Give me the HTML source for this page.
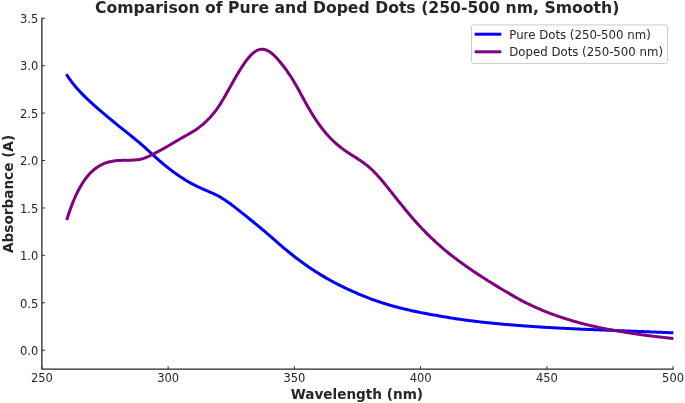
<!DOCTYPE html>
<html><head><meta charset="utf-8"><title>Comparison of Pure and Doped Dots</title>
<style>
html,body{margin:0;padding:0;background:#fff;}
body{width:685px;height:403px;overflow:hidden;}
svg{display:block;filter:blur(0.45px);font-family:"DejaVu Sans","Liberation Sans",sans-serif;}
</style></head><body>
<svg width="685" height="403" viewBox="0 0 685 403">
<rect width="685" height="403" fill="#ffffff"/>
<path d="M41.9 17.8 V369.2 H673.6" fill="none" stroke="#262626" stroke-width="1.3"/>
<path d="M41.90 369.2 v-3.1 M168.14 369.2 v-3.1 M294.38 369.2 v-3.1 M420.62 369.2 v-3.1 M546.86 369.2 v-3.1 M673.10 369.2 v-3.1 M41.9 350.20 h3.1 M41.9 302.79 h3.1 M41.9 255.37 h3.1 M41.9 207.96 h3.1 M41.9 160.54 h3.1 M41.9 113.13 h3.1 M41.9 65.71 h3.1 M41.9 18.30 h3.1" fill="none" stroke="#262626" stroke-width="0.9"/>
<text x="41.90" y="382.1" text-anchor="middle" font-size="11.5" fill="#262626">250</text>
<text x="168.14" y="382.1" text-anchor="middle" font-size="11.5" fill="#262626">300</text>
<text x="294.38" y="382.1" text-anchor="middle" font-size="11.5" fill="#262626">350</text>
<text x="420.62" y="382.1" text-anchor="middle" font-size="11.5" fill="#262626">400</text>
<text x="546.86" y="382.1" text-anchor="middle" font-size="11.5" fill="#262626">450</text>
<text x="673.10" y="382.1" text-anchor="middle" font-size="11.5" fill="#262626">500</text>
<text x="38.3" y="354.95" text-anchor="end" font-size="11.5" fill="#262626">0.0</text>
<text x="38.3" y="307.54" text-anchor="end" font-size="11.5" fill="#262626">0.5</text>
<text x="38.3" y="260.12" text-anchor="end" font-size="11.5" fill="#262626">1.0</text>
<text x="38.3" y="212.71" text-anchor="end" font-size="11.5" fill="#262626">1.5</text>
<text x="38.3" y="165.29" text-anchor="end" font-size="11.5" fill="#262626">2.0</text>
<text x="38.3" y="117.88" text-anchor="end" font-size="11.5" fill="#262626">2.5</text>
<text x="38.3" y="70.46" text-anchor="end" font-size="11.5" fill="#262626">3.0</text>
<text x="38.3" y="23.05" text-anchor="end" font-size="11.5" fill="#262626">3.5</text>
<clipPath id="ax"><rect x="41.9" y="18.3" width="631.50" height="350.90"/></clipPath>
<g clip-path="url(#ax)">
<path d="M67.15 75.50 L68.41 77.36 L69.67 79.15 L70.94 80.88 L72.20 82.56 L73.46 84.17 L74.72 85.73 L75.98 87.24 L77.25 88.70 L78.51 90.12 L79.77 91.50 L81.03 92.84 L82.30 94.14 L83.56 95.42 L84.82 96.66 L86.08 97.88 L87.35 99.08 L88.61 100.25 L89.87 101.41 L91.13 102.56 L92.40 103.70 L93.66 104.83 L94.92 105.95 L96.18 107.07 L97.45 108.18 L98.71 109.28 L99.97 110.38 L101.23 111.47 L102.50 112.55 L103.76 113.63 L105.02 114.70 L106.28 115.76 L107.54 116.82 L108.81 117.87 L110.07 118.92 L111.33 119.96 L112.59 121.00 L113.86 122.03 L115.12 123.06 L116.38 124.08 L117.64 125.10 L118.91 126.12 L120.17 127.13 L121.43 128.14 L122.69 129.15 L123.96 130.16 L125.22 131.16 L126.48 132.17 L127.74 133.18 L129.01 134.19 L130.27 135.20 L131.53 136.21 L132.79 137.23 L134.06 138.26 L135.32 139.29 L136.58 140.33 L137.84 141.37 L139.10 142.44 L140.37 143.51 L141.63 144.60 L142.89 145.70 L144.15 146.82 L145.42 147.96 L146.68 149.10 L147.94 150.26 L149.20 151.42 L150.47 152.58 L151.73 153.74 L152.99 154.90 L154.25 156.06 L155.52 157.20 L156.78 158.33 L158.04 159.45 L159.30 160.56 L160.57 161.65 L161.83 162.73 L163.09 163.80 L164.35 164.85 L165.62 165.88 L166.88 166.90 L168.14 167.90 L169.40 168.88 L170.66 169.85 L171.93 170.80 L173.19 171.73 L174.45 172.65 L175.71 173.55 L176.98 174.44 L178.24 175.31 L179.50 176.16 L180.76 177.00 L182.03 177.82 L183.29 178.63 L184.55 179.42 L185.81 180.20 L187.08 180.96 L188.34 181.70 L189.60 182.43 L190.86 183.14 L192.13 183.83 L193.39 184.50 L194.65 185.15 L195.91 185.79 L197.18 186.41 L198.44 187.01 L199.70 187.60 L200.96 188.18 L202.22 188.75 L203.49 189.31 L204.75 189.86 L206.01 190.40 L207.27 190.94 L208.54 191.47 L209.80 192.01 L211.06 192.56 L212.32 193.12 L213.59 193.69 L214.85 194.28 L216.11 194.89 L217.37 195.53 L218.64 196.20 L219.90 196.90 L221.16 197.64 L222.42 198.41 L223.69 199.21 L224.95 200.04 L226.21 200.89 L227.47 201.76 L228.74 202.65 L230.00 203.57 L231.26 204.50 L232.52 205.45 L233.78 206.41 L235.05 207.38 L236.31 208.36 L237.57 209.36 L238.83 210.36 L240.10 211.36 L241.36 212.37 L242.62 213.39 L243.88 214.40 L245.15 215.41 L246.41 216.43 L247.67 217.44 L248.93 218.46 L250.20 219.48 L251.46 220.50 L252.72 221.52 L253.98 222.54 L255.25 223.57 L256.51 224.60 L257.77 225.64 L259.03 226.68 L260.30 227.72 L261.56 228.77 L262.82 229.83 L264.08 230.89 L265.34 231.96 L266.61 233.03 L267.87 234.11 L269.13 235.20 L270.39 236.30 L271.66 237.40 L272.92 238.50 L274.18 239.61 L275.44 240.72 L276.71 241.82 L277.97 242.92 L279.23 244.02 L280.49 245.12 L281.76 246.20 L283.02 247.27 L284.28 248.34 L285.54 249.39 L286.81 250.44 L288.07 251.47 L289.33 252.50 L290.59 253.51 L291.86 254.52 L293.12 255.51 L294.38 256.50 L295.64 257.48 L296.90 258.44 L298.17 259.40 L299.43 260.34 L300.69 261.27 L301.95 262.20 L303.22 263.11 L304.48 264.02 L305.74 264.91 L307.00 265.80 L308.27 266.68 L309.53 267.54 L310.79 268.40 L312.05 269.24 L313.32 270.08 L314.58 270.90 L315.84 271.72 L317.10 272.52 L318.37 273.32 L319.63 274.10 L320.89 274.87 L322.15 275.64 L323.42 276.39 L324.68 277.14 L325.94 277.87 L327.20 278.60 L328.46 279.31 L329.73 280.02 L330.99 280.71 L332.25 281.40 L333.51 282.08 L334.78 282.75 L336.04 283.41 L337.30 284.06 L338.56 284.70 L339.83 285.34 L341.09 285.96 L342.35 286.58 L343.61 287.19 L344.88 287.80 L346.14 288.40 L347.40 288.99 L348.66 289.58 L349.93 290.15 L351.19 290.73 L352.45 291.29 L353.71 291.85 L354.98 292.41 L356.24 292.96 L357.50 293.50 L358.76 294.04 L360.02 294.57 L361.29 295.10 L362.55 295.62 L363.81 296.13 L365.07 296.64 L366.34 297.14 L367.60 297.63 L368.86 298.12 L370.12 298.60 L371.39 299.07 L372.65 299.54 L373.91 300.00 L375.17 300.45 L376.44 300.89 L377.70 301.33 L378.96 301.75 L380.22 302.18 L381.49 302.59 L382.75 303.00 L384.01 303.40 L385.27 303.80 L386.54 304.18 L387.80 304.56 L389.06 304.94 L390.32 305.30 L391.58 305.66 L392.85 306.02 L394.11 306.36 L395.37 306.70 L396.63 307.03 L397.90 307.36 L399.16 307.68 L400.42 307.99 L401.68 308.30 L402.95 308.61 L404.21 308.91 L405.47 309.21 L406.73 309.50 L408.00 309.80 L409.26 310.09 L410.52 310.39 L411.78 310.68 L413.05 310.97 L414.31 311.25 L415.57 311.53 L416.83 311.81 L418.10 312.08 L419.36 312.34 L420.62 312.60 L421.88 312.85 L423.14 313.09 L424.41 313.33 L425.67 313.56 L426.93 313.79 L428.19 314.02 L429.46 314.24 L430.72 314.46 L431.98 314.68 L433.24 314.90 L434.51 315.12 L435.77 315.34 L437.03 315.56 L438.29 315.79 L439.56 316.01 L440.82 316.23 L442.08 316.45 L443.34 316.67 L444.61 316.89 L445.87 317.10 L447.13 317.31 L448.39 317.52 L449.66 317.73 L450.92 317.93 L452.18 318.14 L453.44 318.34 L454.70 318.53 L455.97 318.72 L457.23 318.91 L458.49 319.10 L459.75 319.28 L461.02 319.46 L462.28 319.64 L463.54 319.81 L464.80 319.98 L466.07 320.15 L467.33 320.32 L468.59 320.48 L469.85 320.64 L471.12 320.80 L472.38 320.96 L473.64 321.11 L474.90 321.27 L476.17 321.42 L477.43 321.57 L478.69 321.72 L479.95 321.87 L481.22 322.01 L482.48 322.16 L483.74 322.30 L485.00 322.44 L486.26 322.58 L487.53 322.71 L488.79 322.85 L490.05 322.98 L491.31 323.11 L492.58 323.23 L493.84 323.36 L495.10 323.48 L496.36 323.60 L497.63 323.72 L498.89 323.83 L500.15 323.95 L501.41 324.06 L502.68 324.17 L503.94 324.28 L505.20 324.38 L506.46 324.49 L507.73 324.60 L508.99 324.70 L510.25 324.80 L511.51 324.91 L512.78 325.01 L514.04 325.11 L515.30 325.21 L516.56 325.31 L517.82 325.41 L519.09 325.51 L520.35 325.60 L521.61 325.70 L522.87 325.79 L524.14 325.89 L525.40 325.98 L526.66 326.07 L527.92 326.16 L529.19 326.25 L530.45 326.34 L531.71 326.43 L532.97 326.51 L534.24 326.60 L535.50 326.68 L536.76 326.77 L538.02 326.85 L539.29 326.93 L540.55 327.01 L541.81 327.09 L543.07 327.17 L544.34 327.25 L545.60 327.32 L546.86 327.40 L548.12 327.47 L549.38 327.55 L550.65 327.62 L551.91 327.69 L553.17 327.76 L554.43 327.83 L555.70 327.90 L556.96 327.97 L558.22 328.04 L559.48 328.10 L560.75 328.16 L562.01 328.22 L563.27 328.29 L564.53 328.34 L565.80 328.40 L567.06 328.46 L568.32 328.52 L569.58 328.58 L570.85 328.64 L572.11 328.70 L573.37 328.76 L574.63 328.82 L575.90 328.88 L577.16 328.94 L578.42 329.01 L579.68 329.07 L580.94 329.13 L582.21 329.19 L583.47 329.24 L584.73 329.30 L585.99 329.35 L587.26 329.41 L588.52 329.46 L589.78 329.51 L591.04 329.56 L592.31 329.61 L593.57 329.66 L594.83 329.70 L596.09 329.75 L597.36 329.80 L598.62 329.85 L599.88 329.90 L601.14 329.95 L602.41 330.00 L603.67 330.05 L604.93 330.10 L606.19 330.15 L607.46 330.20 L608.72 330.25 L609.98 330.30 L611.24 330.35 L612.50 330.40 L613.77 330.45 L615.03 330.50 L616.29 330.55 L617.55 330.60 L618.82 330.65 L620.08 330.70 L621.34 330.75 L622.60 330.80 L623.87 330.85 L625.13 330.90 L626.39 330.95 L627.65 331.00 L628.92 331.05 L630.18 331.10 L631.44 331.15 L632.70 331.20 L633.97 331.25 L635.23 331.30 L636.49 331.35 L637.75 331.40 L639.02 331.45 L640.28 331.50 L641.54 331.55 L642.80 331.60 L644.06 331.65 L645.33 331.70 L646.59 331.75 L647.85 331.80 L649.11 331.85 L650.38 331.90 L651.64 331.95 L652.90 332.00 L654.16 332.05 L655.43 332.10 L656.69 332.15 L657.95 332.20 L659.21 332.25 L660.48 332.30 L661.74 332.35 L663.00 332.40 L664.26 332.45 L665.53 332.50 L666.79 332.55 L668.05 332.60 L669.31 332.65 L670.58 332.70 L671.84 332.75 L673.10 332.80" fill="none" stroke="#0000ff" stroke-width="3" stroke-linecap="square" stroke-linejoin="round"/>
<path d="M67.15 218.60 L68.41 214.69 L69.67 210.98 L70.94 207.46 L72.20 204.13 L73.46 200.98 L74.72 198.00 L75.98 195.19 L77.25 192.54 L78.51 190.04 L79.77 187.70 L81.03 185.50 L82.30 183.43 L83.56 181.50 L84.82 179.69 L86.08 178.00 L87.35 176.42 L88.61 174.95 L89.87 173.57 L91.13 172.29 L92.40 171.10 L93.66 169.99 L94.92 168.96 L96.18 168.00 L97.45 167.12 L98.71 166.31 L99.97 165.56 L101.23 164.88 L102.50 164.26 L103.76 163.70 L105.02 163.20 L106.28 162.75 L107.54 162.35 L108.81 162.00 L110.07 161.69 L111.33 161.43 L112.59 161.20 L113.86 161.01 L115.12 160.84 L116.38 160.71 L117.64 160.60 L118.91 160.51 L120.17 160.44 L121.43 160.39 L122.69 160.35 L123.96 160.32 L125.22 160.29 L126.48 160.27 L127.74 160.25 L129.01 160.23 L130.27 160.20 L131.53 160.16 L132.79 160.11 L134.06 160.04 L135.32 159.95 L136.58 159.82 L137.84 159.67 L139.10 159.47 L140.37 159.23 L141.63 158.94 L142.89 158.60 L144.15 158.20 L145.42 157.74 L146.68 157.24 L147.94 156.70 L149.20 156.12 L150.47 155.51 L151.73 154.88 L152.99 154.23 L154.25 153.57 L155.52 152.90 L156.78 152.23 L158.04 151.56 L159.30 150.89 L160.57 150.21 L161.83 149.53 L163.09 148.84 L164.35 148.15 L165.62 147.44 L166.88 146.73 L168.14 146.00 L169.40 145.26 L170.66 144.51 L171.93 143.76 L173.19 143.00 L174.45 142.23 L175.71 141.47 L176.98 140.72 L178.24 139.97 L179.50 139.23 L180.76 138.50 L182.03 137.79 L183.29 137.08 L184.55 136.39 L185.81 135.69 L187.08 135.00 L188.34 134.29 L189.60 133.57 L190.86 132.84 L192.13 132.08 L193.39 131.30 L194.65 130.49 L195.91 129.64 L197.18 128.76 L198.44 127.85 L199.70 126.89 L200.96 125.90 L202.22 124.87 L203.49 123.79 L204.75 122.67 L206.01 121.50 L207.27 120.28 L208.54 119.01 L209.80 117.69 L211.06 116.30 L212.32 114.85 L213.59 113.34 L214.85 111.75 L216.11 110.08 L217.37 108.33 L218.64 106.50 L219.90 104.58 L221.16 102.59 L222.42 100.52 L223.69 98.40 L224.95 96.23 L226.21 94.02 L227.47 91.78 L228.74 89.53 L230.00 87.26 L231.26 85.00 L232.52 82.75 L233.78 80.51 L235.05 78.30 L236.31 76.12 L237.57 73.98 L238.83 71.87 L240.10 69.82 L241.36 67.82 L242.62 65.88 L243.88 64.00 L245.15 62.20 L246.41 60.47 L247.67 58.84 L248.93 57.31 L250.20 55.89 L251.46 54.58 L252.72 53.40 L253.98 52.35 L255.25 51.45 L256.51 50.70 L257.77 50.11 L259.03 49.68 L260.30 49.41 L261.56 49.28 L262.82 49.31 L264.08 49.47 L265.34 49.78 L266.61 50.22 L267.87 50.80 L269.13 51.50 L270.39 52.33 L271.66 53.27 L272.92 54.32 L274.18 55.47 L275.44 56.72 L276.71 58.04 L277.97 59.44 L279.23 60.91 L280.49 62.43 L281.76 64.00 L283.02 65.61 L284.28 67.27 L285.54 68.97 L286.81 70.72 L288.07 72.53 L289.33 74.38 L290.59 76.30 L291.86 78.27 L293.12 80.30 L294.38 82.40 L295.64 84.56 L296.90 86.78 L298.17 89.04 L299.43 91.34 L300.69 93.66 L301.95 95.99 L303.22 98.32 L304.48 100.64 L305.74 102.94 L307.00 105.20 L308.27 107.42 L309.53 109.59 L310.79 111.72 L312.05 113.80 L313.32 115.83 L314.58 117.81 L315.84 119.74 L317.10 121.61 L318.37 123.43 L319.63 125.20 L320.89 126.91 L322.15 128.57 L323.42 130.17 L324.68 131.72 L325.94 133.22 L327.20 134.67 L328.46 136.08 L329.73 137.43 L330.99 138.74 L332.25 140.00 L333.51 141.22 L334.78 142.40 L336.04 143.53 L337.30 144.63 L338.56 145.69 L339.83 146.72 L341.09 147.71 L342.35 148.67 L343.61 149.60 L344.88 150.50 L346.14 151.38 L347.40 152.23 L348.66 153.06 L349.93 153.88 L351.19 154.69 L352.45 155.49 L353.71 156.29 L354.98 157.09 L356.24 157.89 L357.50 158.70 L358.76 159.52 L360.02 160.36 L361.29 161.22 L362.55 162.10 L363.81 163.01 L365.07 163.95 L366.34 164.92 L367.60 165.94 L368.86 166.99 L370.12 168.10 L371.39 169.26 L372.65 170.46 L373.91 171.71 L375.17 173.00 L376.44 174.34 L377.70 175.71 L378.96 177.11 L380.22 178.55 L381.49 180.01 L382.75 181.50 L384.01 183.01 L385.27 184.54 L386.54 186.09 L387.80 187.66 L389.06 189.23 L390.32 190.82 L391.58 192.41 L392.85 194.01 L394.11 195.60 L395.37 197.20 L396.63 198.79 L397.90 200.38 L399.16 201.96 L400.42 203.54 L401.68 205.11 L402.95 206.67 L404.21 208.22 L405.47 209.76 L406.73 211.29 L408.00 212.80 L409.26 214.30 L410.52 215.79 L411.78 217.26 L413.05 218.71 L414.31 220.16 L415.57 221.58 L416.83 222.99 L418.10 224.38 L419.36 225.75 L420.62 227.10 L421.88 228.43 L423.14 229.75 L424.41 231.05 L425.67 232.33 L426.93 233.59 L428.19 234.84 L429.46 236.08 L430.72 237.30 L431.98 238.51 L433.24 239.70 L434.51 240.88 L435.77 242.05 L437.03 243.21 L438.29 244.35 L439.56 245.48 L440.82 246.59 L442.08 247.69 L443.34 248.78 L444.61 249.85 L445.87 250.90 L447.13 251.94 L448.39 252.96 L449.66 253.96 L450.92 254.96 L452.18 255.94 L453.44 256.91 L454.70 257.87 L455.97 258.82 L457.23 259.76 L458.49 260.70 L459.75 261.63 L461.02 262.55 L462.28 263.47 L463.54 264.38 L464.80 265.29 L466.07 266.19 L467.33 267.08 L468.59 267.96 L469.85 268.83 L471.12 269.70 L472.38 270.56 L473.64 271.41 L474.90 272.25 L476.17 273.09 L477.43 273.92 L478.69 274.74 L479.95 275.56 L481.22 276.38 L482.48 277.19 L483.74 278.00 L485.00 278.81 L486.26 279.61 L487.53 280.41 L488.79 281.21 L490.05 282.00 L491.31 282.79 L492.58 283.57 L493.84 284.35 L495.10 285.13 L496.36 285.90 L497.63 286.66 L498.89 287.42 L500.15 288.18 L501.41 288.93 L502.68 289.68 L503.94 290.43 L505.20 291.17 L506.46 291.91 L507.73 292.66 L508.99 293.40 L510.25 294.14 L511.51 294.89 L512.78 295.63 L514.04 296.36 L515.30 297.09 L516.56 297.82 L517.82 298.53 L519.09 299.23 L520.35 299.92 L521.61 300.60 L522.87 301.26 L524.14 301.91 L525.40 302.54 L526.66 303.16 L527.92 303.77 L529.19 304.37 L530.45 304.97 L531.71 305.55 L532.97 306.13 L534.24 306.70 L535.50 307.27 L536.76 307.83 L538.02 308.39 L539.29 308.94 L540.55 309.49 L541.81 310.02 L543.07 310.56 L544.34 311.08 L545.60 311.59 L546.86 312.10 L548.12 312.60 L549.38 313.08 L550.65 313.56 L551.91 314.03 L553.17 314.49 L554.43 314.95 L555.70 315.40 L556.96 315.84 L558.22 316.27 L559.48 316.70 L560.75 317.12 L562.01 317.54 L563.27 317.95 L564.53 318.36 L565.80 318.76 L567.06 319.16 L568.32 319.55 L569.58 319.94 L570.85 320.32 L572.11 320.70 L573.37 321.07 L574.63 321.44 L575.90 321.81 L577.16 322.17 L578.42 322.52 L579.68 322.87 L580.94 323.21 L582.21 323.55 L583.47 323.88 L584.73 324.20 L585.99 324.52 L587.26 324.82 L588.52 325.13 L589.78 325.42 L591.04 325.72 L592.31 326.00 L593.57 326.28 L594.83 326.56 L596.09 326.83 L597.36 327.10 L598.62 327.37 L599.88 327.63 L601.14 327.88 L602.41 328.14 L603.67 328.39 L604.93 328.64 L606.19 328.88 L607.46 329.13 L608.72 329.36 L609.98 329.60 L611.24 329.83 L612.50 330.06 L613.77 330.29 L615.03 330.51 L616.29 330.73 L617.55 330.95 L618.82 331.17 L620.08 331.38 L621.34 331.59 L622.60 331.80 L623.87 332.01 L625.13 332.21 L626.39 332.42 L627.65 332.62 L628.92 332.82 L630.18 333.02 L631.44 333.22 L632.70 333.41 L633.97 333.61 L635.23 333.80 L636.49 333.99 L637.75 334.18 L639.02 334.37 L640.28 334.55 L641.54 334.73 L642.80 334.91 L644.06 335.09 L645.33 335.26 L646.59 335.43 L647.85 335.60 L649.11 335.76 L650.38 335.92 L651.64 336.08 L652.90 336.23 L654.16 336.38 L655.43 336.53 L656.69 336.67 L657.95 336.82 L659.21 336.96 L660.48 337.10 L661.74 337.24 L663.00 337.38 L664.26 337.52 L665.53 337.66 L666.79 337.79 L668.05 337.93 L669.31 338.07 L670.58 338.21 L671.84 338.36 L673.10 338.50" fill="none" stroke="#800080" stroke-width="3" stroke-linecap="square" stroke-linejoin="round"/>
</g>
<rect x="471.5" y="24.9" width="196" height="38.6" rx="2" ry="2" fill="#fff" fill-opacity="0.8" stroke="#cccccc" stroke-width="1"/>
<path d="M476.2 34.2 H499.8" stroke="#0000ff" stroke-width="3" stroke-linecap="square"/>
<path d="M476.2 51.8 H499.8" stroke="#800080" stroke-width="3" stroke-linecap="square"/>
<text x="509.3" y="38.8" font-size="11.75" fill="#262626">Pure Dots (250-500 nm)</text>
<text x="509.3" y="55.8" font-size="11.75" fill="#262626">Doped Dots (250-500 nm)</text>
<text x="357.2" y="13.3" text-anchor="middle" font-size="15.66" font-weight="bold" fill="#262626">Comparison of Pure and Doped Dots (250-500 nm, Smooth)</text>
<text x="356.9" y="398.5" text-anchor="middle" font-size="13.62" font-weight="bold" fill="#262626">Wavelength (nm)</text>
<text transform="translate(13.2 193.9) rotate(-90)" text-anchor="middle" font-size="13.62" font-weight="bold" fill="#262626">Absorbance (A)</text>
</svg>
</body></html>
